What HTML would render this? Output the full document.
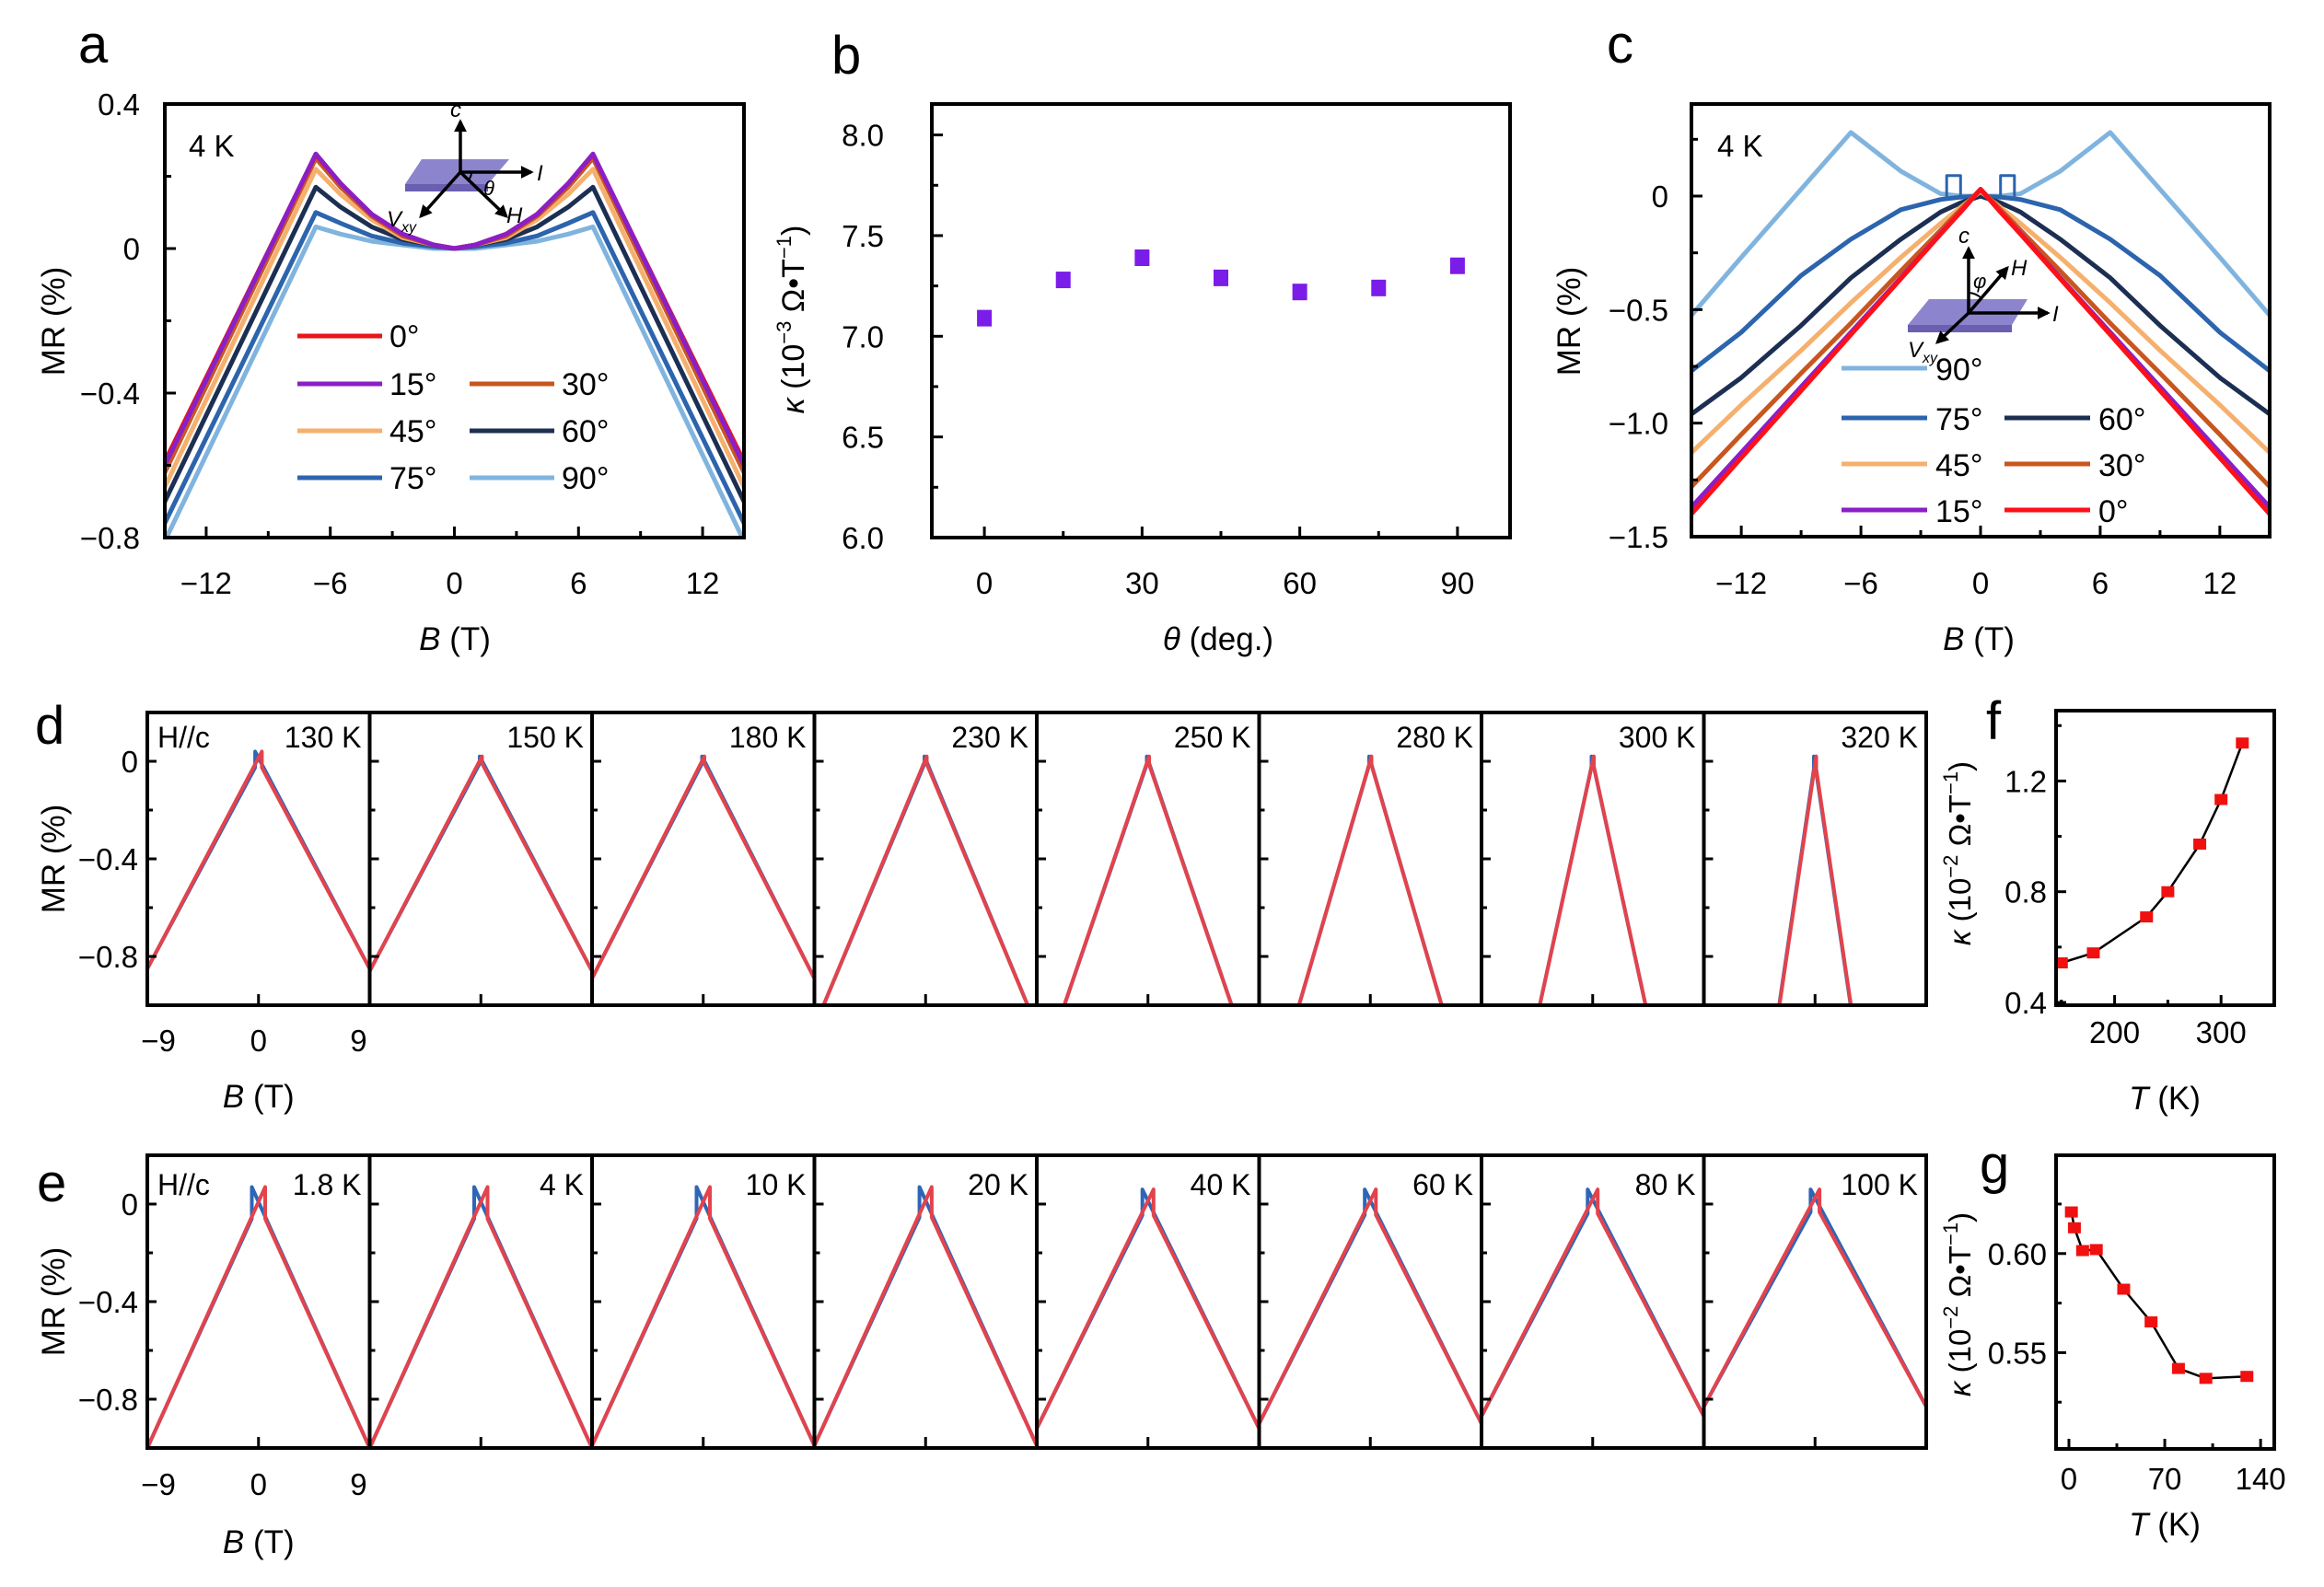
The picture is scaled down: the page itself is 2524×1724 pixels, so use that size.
<!DOCTYPE html>
<html><head><meta charset="utf-8"><title>MR figure</title>
<style>
html,body{margin:0;padding:0;background:#fff;}
svg{display:block;}
text{font-family:"Liberation Sans",Arial,sans-serif;fill:#000;}
</style></head>
<body>
<svg id="fig" xmlns="http://www.w3.org/2000/svg" width="2524" height="1724" viewBox="0 0 2524 1724"></svg>
<script>
// ---------- Panel a data ----------
const aAngles = ['0°','15°','30°','45°','60°','75°','90°'];
const aB = [0, 1, 2.5, 4, 5.5, 6.7, 14];
const aMR0  = [0, 0.01, 0.04, 0.095, 0.18, 0.26, -0.59];
const aMR15 = [0, 0.01, 0.04, 0.095, 0.18, 0.262, -0.60];
const aMR30 = [0, 0.01, 0.035, 0.09, 0.17, 0.25, -0.62];
const aMR45 = [0, 0.01, 0.03, 0.08, 0.15, 0.22, -0.66];
const aMR60 = [0, 0.01, 0.025, 0.06, 0.115, 0.17, -0.70];
const aMR75 = [0, 0.005, 0.015, 0.035, 0.07, 0.10, -0.76];
const aMR90 = [0, 0.0, 0.01, 0.02, 0.04, 0.06, -0.81];
const aXTicks = [-12, -6, 0, 6, 12];
const aYTicks = [0.4, 0, -0.4, -0.8];
// ---------- Panel b data ----------
const bTheta = [0, 15, 30, 45, 60, 75, 90];
const bKappa = [7.09, 7.28, 7.39, 7.29, 7.22, 7.24, 7.35];
const bXTicks = [0, 30, 60, 90];
const bYTicks = [6.0, 6.5, 7.0, 7.5, 8.0];
// ---------- Panel c data ----------
const cB = [0, 1, 2, 4, 6.5, 9, 12, 14.5];
const cMR0  = [0.03, -0.07, -0.167, -0.364, -0.61, -0.857, -1.153, -1.40];
const cMR15 = [0.03, -0.07, -0.165, -0.36, -0.60, -0.84, -1.13, -1.37];
const cMR30 = [0.03, -0.06, -0.15, -0.33, -0.56, -0.78, -1.05, -1.28];
const cMR45 = [0.02, -0.05, -0.12, -0.27, -0.47, -0.68, -0.92, -1.13];
const cMR60 = [0.0, -0.03, -0.07, -0.19, -0.36, -0.57, -0.80, -0.96];
const cMR75 = [0.0, -0.005, -0.015, -0.06, -0.19, -0.35, -0.60, -0.77];
const cMR90 = [0.0, 0.0, 0.01, 0.11, 0.28, 0.03, -0.27, -0.525];
const cXTicks = [-12, -6, 0, 6, 12];
const cYTicks = [0, -0.5, -1.0, -1.5];
// ---------- Panel d/e data ----------
const dTemps = ['130 K','150 K','180 K','230 K','250 K','280 K','300 K','320 K'];
const dSlopes = [0.085, 0.086, 0.089, 0.109, 0.133, 0.156, 0.21, 0.31];
const dTipH = [0.04, 0.02, 0.02, 0.02, 0.02, 0.02, 0.02, 0.02];
const dTipW = [0.3, 0.1, 0.1, 0.1, 0.1, 0.1, 0.1, 0.1];
const eTemps = ['1.8 K','4 K','10 K','20 K','40 K','60 K','80 K','100 K'];
const eSlopes = [0.100, 0.100, 0.099, 0.099, 0.092, 0.090, 0.087, 0.083];
const eTipH = [0.07, 0.07, 0.07, 0.07, 0.06, 0.06, 0.06, 0.06];
const eTipW = [0.6, 0.6, 0.6, 0.55, 0.5, 0.5, 0.45, 0.4];
const deYTicks = [0, -0.4, -0.8];
const deXTicks = [-9, 0, 9];
// ---------- Panel f data ----------
const fT = [150, 180, 230, 250, 280, 300, 320];
const fKappa = [0.543, 0.579, 0.709, 0.80, 0.972, 1.133, 1.337];
const fXTicks = [200, 300];
const fYTicks = [0.4, 0.8, 1.2];
// ---------- Panel g data ----------
const gT = [1.8, 4, 10, 20, 40, 60, 80, 100, 130];
const gKappa = [0.621, 0.613, 0.6015, 0.602, 0.582, 0.5655, 0.542, 0.537, 0.538];
const gXTicks = [0, 70, 140];
const gYTicks = [0.55, 0.60];

const NS = 'http://www.w3.org/2000/svg';
const svg = document.getElementById('fig');
let clipId = 0;

function mk(tag, attrs, parent, name) {
  const e = document.createElementNS(NS, tag);
  for (const k in attrs) e.setAttribute(k, attrs[k]);
  
  
  (parent || svg).appendChild(e);
  return e;
}
function fmt(v, d) { const s = v.toFixed(d); return s.replace('-', '\u2212'); }
function scale(d0, d1, p0, p1) { return v => p0 + (v - d0) * (p1 - p0) / (d1 - d0); }

function frame(g, x0, y0, x1, y1, name) {
  mk('rect', {x:x0, y:y0, width:x1-x0, height:y1-y0, fill:'none', stroke:'#000', 'stroke-width':4}, g, name);
}
function clip(x0, y0, x1, y1) {
  const id = 'cl' + (clipId++);
  const cp = mk('clipPath', {id:id}, svg, 'clip-region');
  mk('rect', {x:x0, y:y0, width:x1-x0, height:y1-y0}, cp, 'clip-rect');
  return 'url(#' + id + ')';
}
function xtick(g, x, yb, len, name) { mk('line', {x1:x, y1:yb, x2:x, y2:yb-len, stroke:'#000', 'stroke-width':3}, g, name); }
function ytick(g, xl, y, len, name) { mk('line', {x1:xl, y1:y, x2:xl+len, y2:y, stroke:'#000', 'stroke-width':3}, g, name); }
function txt(g, x, y, s, size, anchor, name, extra) {
  const t = mk('text', Object.assign({x:x, y:y, 'font-size':size, 'text-anchor':anchor||'start'}, extra||{}), g, name);
  t.textContent = s;
  return t;
}
function poly(g, pts, color, w, name, cp) {
  const a = {points: pts.map(p => p[0].toFixed(1)+','+p[1].toFixed(1)).join(' '), fill:'none', stroke:color, 'stroke-width':w, 'stroke-linejoin':'round', 'stroke-linecap':'round'};
  if (cp) a['clip-path'] = cp;
  return mk('polyline', a, g, name);
}
function mirror(B, V) {
  const pts = [];
  for (let i = B.length - 1; i > 0; i--) pts.push([-B[i], V[i]]);
  for (let i = 0; i < B.length; i++) pts.push([B[i], V[i]]);
  return pts;
}
function panelLetter(s, x, y) { txt(svg, x, y, s, 58, 'start', 'panel-label-' + s); }

// ================= Panel a =================
(function(){
  const g = mk('g', {}, svg, 'panel-a');
  const X0=179, X1=808, Y0=113, Y1=584;
  const sx = scale(-14, 14, X0, X1), sy = scale(0.4, -0.8, Y0, Y1);
  const cp = clip(X0, Y0, X1, Y1);
  const cols = ['#e8141a','#8b1fc7','#c8561f','#f5b06e','#1c2f52','#2c64ad','#80b4de'];
  const series = [aMR0, aMR15, aMR30, aMR45, aMR60, aMR75, aMR90];
  const order = [6,5,4,3,2,0,1];
  order.forEach(i => {
    const pts = mirror(aB, series[i]).map(p => [sx(p[0]), sy(p[1])]);
    poly(g, pts, cols[i], 5, 'curve-' + aAngles[i].replace('°','deg'), cp);
  });
  frame(g, X0, Y0, X1, Y1, 'plot-frame-a');
  aXTicks.forEach(v => { xtick(g, sx(v), Y1, 12, 'x-tick'); txt(g, sx(v), 645, fmt(v,0), 33, 'middle', 'x-tick-label'); });
  [-9,-3,3,9].forEach(v => xtick(g, sx(v), Y1, 7, 'x-minor-tick'));
  aYTicks.forEach(v => { ytick(g, X0, sy(v), 12, 'y-tick'); txt(g, 152, sy(v)+12, fmt(v, v===0?0:1), 33, 'end', 'y-tick-label'); });
  [0.2,-0.2,-0.6].forEach(v => ytick(g, X0, sy(v), 7, 'y-minor-tick'));
  txt(g, 205, 170, '4 K', 33, 'start', 'temperature-label');
  const yt = txt(g, 0, 0, 'MR (%)', 35, 'middle', 'y-axis-title', {transform:'translate(70,349) rotate(-90)'});
  const xt = mk('text', {x:494, y:706, 'font-size':35, 'text-anchor':'middle'}, g, 'x-axis-title');
  xt.innerHTML = '<tspan font-style="italic">B</tspan> (T)';
  // legend
  const leg = [[0,323,365],[1,323,417],[2,510,417],[3,323,468],[4,510,468],[5,323,519],[6,510,519]];
  leg.forEach(l => {
    mk('line', {x1:l[1], y1:l[2], x2:l[1]+92, y2:l[2], stroke:cols[l[0]], 'stroke-width':5}, g, 'legend-swatch');
    txt(g, l[1]+100, l[2]+12, aAngles[l[0]], 34, 'start', 'legend-entry');
  });
  // inset schematic
  const ins = mk('g', {}, g, 'geometry-inset-a');
  mk('polygon', {points:'440,200 530,200 530,208 440,208', fill:'#6a5fb0'}, ins, 'sample-edge');
  mk('polygon', {points:'458,173 553,173 530,200 440,200', fill:'#8c84cc'}, ins, 'sample-plate');
  const arr = (x2,y2,n) => {
    mk('line', {x1:500, y1:187, x2:x2, y2:y2, stroke:'#000', 'stroke-width':3.5, 'marker-end':'url(#arrow)'}, ins, n);
  };
  const defs = mk('defs', {}, svg, 'defs');
  const mkr = mk('marker', {id:'arrow', viewBox:'0 0 10 10', refX:8, refY:5, markerWidth:4, markerHeight:4, orient:'auto'}, defs, 'arrow-head');
  mk('path', {d:'M0,0 L10,5 L0,10 z', fill:'#000'}, mkr, 'arrow-head-shape');
  arr(500,132,'c-axis-arrow'); arr(577,187,'current-arrow'); arr(457,235,'vxy-arrow'); arr(550,235,'field-arrow');
  mk('path', {d:'M512,187 A12,12 0 0 1 508,196', fill:'none', stroke:'#000', 'stroke-width':2}, ins, 'theta-arc');
  txt(ins, 489, 127, 'c', 24, 'start', 'c-label', {'font-style':'italic'});
  txt(ins, 583, 196, 'I', 24, 'start', 'i-label', {'font-style':'italic'});
  txt(ins, 525, 212, 'θ', 22, 'start', 'theta-label', {'font-style':'italic'});
  txt(ins, 550, 242, 'H', 24, 'start', 'h-label', {'font-style':'italic'});
  const v = mk('text', {x:420, y:246, 'font-size':24, 'font-style':'italic'}, ins, 'vxy-label');
  v.innerHTML = 'V<tspan font-size="16" dy="6">xy</tspan>';
})();
panelLetter('a', 85, 68);

// ================= Panel b =================
(function(){
  const g = mk('g', {}, svg, 'panel-b');
  const X0=1012, X1=1640, Y0=113, Y1=584;
  const sx = scale(-10, 100, X0, X1), sy = scale(6.0, 8.0, Y1, 146.6);
  frame(g, X0, Y0, X1, Y1, 'plot-frame-b');
  bXTicks.forEach(v => { xtick(g, sx(v), Y1, 12, 'x-tick'); txt(g, sx(v), 645, String(v), 33, 'middle', 'x-tick-label'); });
  [15,45,75].forEach(v => xtick(g, sx(v), Y1, 7, 'x-minor-tick'));
  bYTicks.forEach(v => { ytick(g, X0, sy(v), 12, 'y-tick'); txt(g, 960, sy(v)+12, v.toFixed(1), 33, 'end', 'y-tick-label'); });
  [6.25,6.75,7.25,7.75].forEach(v => ytick(g, X0, sy(v), 7, 'y-minor-tick'));
  bTheta.forEach((t,i) => {
    mk('rect', {x:sx(t)-8, y:sy(bKappa[i])-9, width:16, height:18, fill:'#7a1de8'}, g, 'data-point');
  });
  const yt = mk('text', {'font-size':34, 'text-anchor':'middle', transform:'translate(873,347) rotate(-90)'}, g, 'y-axis-title');
  yt.innerHTML = '<tspan font-style="italic">κ</tspan> (10<tspan font-size="22" dy="-14">−3</tspan><tspan dy="14"> Ω•T</tspan><tspan font-size="22" dy="-14">−1</tspan><tspan dy="14">)</tspan>';
  const xt = mk('text', {x:1323, y:706, 'font-size':35, 'text-anchor':'middle'}, g, 'x-axis-title');
  xt.innerHTML = '<tspan font-style="italic">θ</tspan> (deg.)';
})();
panelLetter('b', 903, 80);

// ================= Panel c =================
(function(){
  const g = mk('g', {}, svg, 'panel-c');
  const X0=1837, X1=2465, Y0=113, Y1=583;
  const sx = scale(-14.5, 14.5, X0, X1), sy = scale(0, -1.5, 213, 583);
  const cp = clip(X0, Y0, X1, Y1);
  const cols = ['#ff1018','#8b1fc7','#c8561f','#f5b06e','#1c2f52','#2c64ad','#80b4de'];
  const names = ['0°','15°','30°','45°','60°','75°','90°'];
  const series = [cMR0, cMR15, cMR30, cMR45, cMR60, cMR75, cMR90];
  [6,5,4,3,2,1,0].forEach(i => {
    const pts = mirror(cB, series[i]).map(p => [sx(p[0]), sy(p[1])]);
    poly(g, pts, cols[i], 5, 'curve-' + names[i].replace('°','deg'), cp);
  });
  // small hysteresis steps of 75 deg curve
  [-1,1].forEach(sgn => {
    const pts = [[1.0,0.0],[1.0,0.09],[1.7,0.09],[1.7,0.0]].map(p => [sx(sgn*p[0]), sy(p[1])]);
    poly(g, pts, '#2c64ad', 3, 'hysteresis-step-75deg', cp);
  });
  frame(g, X0, Y0, X1, Y1, 'plot-frame-c');
  cXTicks.forEach(v => { xtick(g, sx(v), Y1, 12, 'x-tick'); txt(g, sx(v), 645, fmt(v,0), 33, 'middle', 'x-tick-label'); });
  [-9,-3,3,9].forEach(v => xtick(g, sx(v), Y1, 7, 'x-minor-tick'));
  cYTicks.forEach(v => { ytick(g, X0, sy(v), 12, 'y-tick'); txt(g, 1812, sy(v)+12, fmt(v, v===0?0:1), 33, 'end', 'y-tick-label'); });
  [0.25,-0.25,-0.75,-1.25].forEach(v => ytick(g, X0, sy(v), 7, 'y-minor-tick'));
  txt(g, 1865, 170, '4 K', 33, 'start', 'temperature-label');
  txt(g, 0, 0, 'MR (%)', 35, 'middle', 'y-axis-title', {transform:'translate(1716,349) rotate(-90)'});
  const xt = mk('text', {x:2149, y:706, 'font-size':35, 'text-anchor':'middle'}, g, 'x-axis-title');
  xt.innerHTML = '<tspan font-style="italic">B</tspan> (T)';
  const leg = [[6,2000,400],[5,2000,454],[4,2177,454],[3,2000,504],[2,2177,504],[1,2000,554],[0,2177,554]];
  leg.forEach(l => {
    mk('line', {x1:l[1], y1:l[2], x2:l[1]+93, y2:l[2], stroke:cols[l[0]], 'stroke-width':5}, g, 'legend-swatch');
    txt(g, l[1]+102, l[2]+13, names[l[0]], 34, 'start', 'legend-entry');
  });
  const ins = mk('g', {}, g, 'geometry-inset-c');
  mk('polygon', {points:'2072,353 2185,353 2185,361 2072,361', fill:'#6a5fb0'}, ins, 'sample-edge');
  mk('polygon', {points:'2095,325 2202,325 2185,353 2072,353', fill:'#8c84cc'}, ins, 'sample-plate');
  const arr = (x2,y2,n) => mk('line', {x1:2138, y1:340, x2:x2, y2:y2, stroke:'#000', 'stroke-width':3.5, 'marker-end':'url(#arrow)'}, ins, n);
  arr(2138,270,'c-axis-arrow'); arr(2180,291,'field-arrow'); arr(2224,340,'current-arrow'); arr(2104,372,'vxy-arrow');
  mk('path', {d:'M2138,318 A22,22 0 0 1 2152,324', fill:'none', stroke:'#000', 'stroke-width':2}, ins, 'phi-arc');
  txt(ins, 2127, 264, 'c', 24, 'start', 'c-label', {'font-style':'italic'});
  txt(ins, 2143, 313, 'φ', 22, 'start', 'phi-label', {'font-style':'italic'});
  txt(ins, 2184, 299, 'H', 24, 'start', 'h-label', {'font-style':'italic'});
  txt(ins, 2229, 349, 'I', 24, 'start', 'i-label', {'font-style':'italic'});
  const v = mk('text', {x:2072, y:388, 'font-size':24, 'font-style':'italic'}, ins, 'vxy-label');
  v.innerHTML = 'V<tspan font-size="16" dy="6">xy</tspan>';
})();
panelLetter('c', 1745, 68);

// ================= Panels d & e =================
function stripPanel(key, Y0, Y1, temps, slopes, tipH, tipW, labelY, tickLabY, titleY) {
  const g = mk('g', {}, svg, 'panel-' + key);
  const L = 160, R = 2092, W = (R - L) / temps.length;
  const sy = scale(0.2, -1.0, Y0, Y1);
  temps.forEach((t, i) => {
    const x0 = L + i * W, x1 = x0 + W;
    const sx = scale(-10, 10, x0, x1);
    const sg = mk('g', {}, g, 'subpanel-' + t.replace(' ', ''));
    const cp = clip(x0, Y0, x1, Y1);
    const s = slopes[i], h = tipH[i], w = tipW[i];
    const blue = [[-10,-10*s],[-w,-s*w],[-w,h],[10,-10*s]].map(p => [sx(p[0]), sy(p[1])]);
    const red = [[-10,-10*s],[w,h],[w,-s*w],[10,-10*s]].map(p => [sx(p[0]), sy(p[1])]);
    poly(sg, blue, '#2d66b8', 4, 'curve-sweep-down', cp);
    poly(sg, red, '#e2434c', 4, 'curve-sweep-up', cp);
    frame(sg, x0, Y0, x1, Y1, 'subpanel-frame');
    xtick(sg, sx(0), Y1, 12, 'x-tick');
    deYTicks.forEach(v => ytick(sg, x0, sy(v), 10, 'y-tick'));
    [-0.2,-0.6].forEach(v => ytick(sg, x0, sy(v), 6, 'y-minor-tick'));
    txt(sg, x1 - 9, labelY, t, 32, 'end', 'temperature-label');
    if (i === 0) {
      txt(sg, x0 + 11, labelY, 'H//c', 32, 'start', 'field-direction-label');
      deXTicks.forEach(v => txt(sg, sx(v), tickLabY, fmt(v,0), 33, 'middle', 'x-tick-label'));
      deYTicks.forEach(v => txt(sg, 150, sy(v)+12, fmt(v, v===0?0:1), 33, 'end', 'y-tick-label'));
      txt(sg, 0, 0, 'MR (%)', 35, 'middle', 'y-axis-title', {transform:'translate(70,' + ((Y0+Y1)/2) + ') rotate(-90)'});
      const xt = mk('text', {x:sx(0), y:titleY, 'font-size':35, 'text-anchor':'middle'}, sg, 'x-axis-title');
      xt.innerHTML = '<tspan font-style="italic">B</tspan> (T)';
    }
  });
}
stripPanel('d', 774, 1092, dTemps, dSlopes, dTipH, dTipW, 812, 1142, 1203);
stripPanel('e', 1255, 1573, eTemps, eSlopes, eTipH, eTipW, 1298, 1624, 1687);
panelLetter('d', 38, 808);
panelLetter('e', 40, 1305);

// ================= Panel f & g =================
function kappaPanel(key, Y0, Y1, xs, ys, xmin, xmax, ymin, ymax, xticks, xminor, yticks, yminor, ydec, ytitleY, tickLabY, titleY) {
  const g = mk('g', {}, svg, 'panel-' + key);
  const X0 = 2233, X1 = 2470;
  const sx = scale(xmin, xmax, X0, X1), sy = scale(ymin, ymax, Y1, Y0);
  poly(g, xs.map((x,i) => [sx(x), sy(ys[i])]), '#000', 2.5, 'trend-line');
  xs.forEach((x,i) => mk('rect', {x:sx(x)-7, y:sy(ys[i])-6, width:14, height:12, fill:'#f01010'}, g, 'data-point'));
  frame(g, X0, Y0, X1, Y1, 'plot-frame-' + key);
  xticks.forEach(v => { xtick(g, sx(v), Y1, 11, 'x-tick'); txt(g, sx(v), tickLabY, String(v), 33, 'middle', 'x-tick-label'); });
  xminor.forEach(v => xtick(g, sx(v), Y1, 6, 'x-minor-tick'));
  yticks.forEach(v => { ytick(g, X0, sy(v), 11, 'y-tick'); txt(g, 2223, sy(v)+12, v.toFixed(ydec), 33, 'end', 'y-tick-label'); });
  yminor.forEach(v => ytick(g, X0, sy(v), 6, 'y-minor-tick'));
  const yt = mk('text', {'font-size':33, 'text-anchor':'middle', transform:'translate(2140,' + ytitleY + ') rotate(-90)'}, g, 'y-axis-title');
  yt.innerHTML = '<tspan font-style="italic">κ</tspan> (10<tspan font-size="22" dy="-14">−2</tspan><tspan dy="14"> Ω•T</tspan><tspan font-size="22" dy="-14">−1</tspan><tspan dy="14">)</tspan>';
  const xt = mk('text', {x:2351, y:titleY, 'font-size':35, 'text-anchor':'middle'}, g, 'x-axis-title');
  xt.innerHTML = '<tspan font-style="italic">T</tspan> (K)';
}
kappaPanel('f', 772, 1092, fT, fKappa, 145, 350, 0.39, 1.454, fXTicks, [150,250], fYTicks, [0.6,1.0,1.4], 1, 927, 1133, 1205);
kappaPanel('g', 1255, 1574, gT, gKappa, -9.4, 150, 0.5014, 0.6496, gXTicks, [35,105], gYTicks, [0.525,0.575,0.625], 2, 1417, 1618, 1668);
panelLetter('f', 2157, 803);
panelLetter('g', 2150, 1285);
</script>
</body></html>
